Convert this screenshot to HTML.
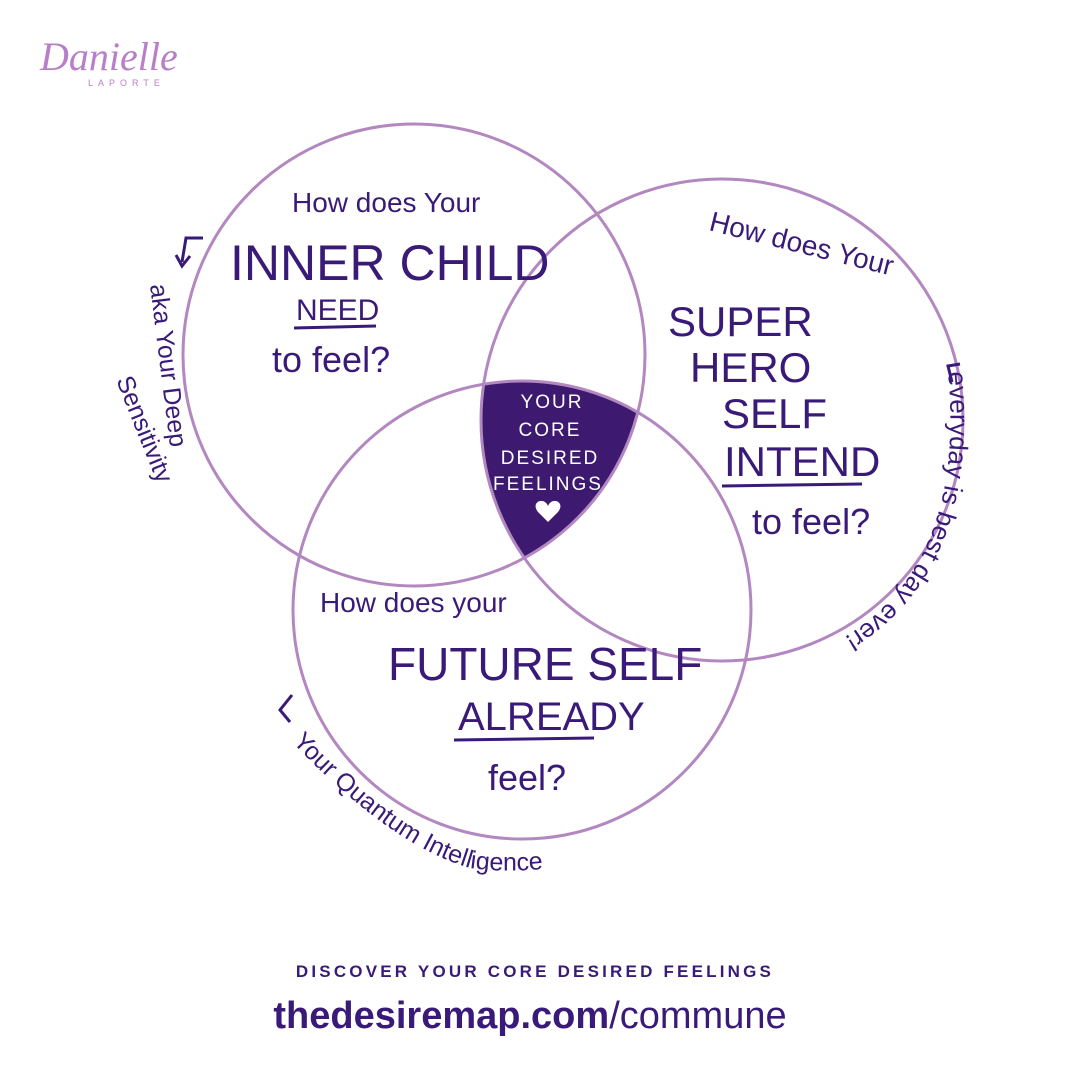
<!DOCTYPE html>
<html><head><meta charset="utf-8"><style>
html,body{margin:0;padding:0;background:#fff;}
body{width:1080px;height:1080px;overflow:hidden;position:relative;font-family:"Liberation Sans",sans-serif;}
</style></head><body>
<svg width="1080" height="1080" viewBox="0 0 1080 1080" xmlns="http://www.w3.org/2000/svg" style="position:absolute;left:0;top:0">
<defs>
<clipPath id="cL"><circle cx="414" cy="355" r="231"/></clipPath>
<clipPath id="cR"><circle cx="722" cy="420" r="241"/></clipPath>
<path id="pA" d="M150 285 L178 510"/>
<path id="pS" d="M116 380 L182 545"/>
<path id="pR" d="M948 372 Q972 625 752 672"/>
<path id="pB" d="M292 742 Q390 845 470 868 Q560 880 648 838"/>
</defs>
<g clip-path="url(#cL)"><g clip-path="url(#cR)"><circle cx="522" cy="610" r="229" fill="#3d1a70"/></g></g>
<g fill="none" stroke="#b387c0" stroke-width="3">
<circle cx="414" cy="355" r="231"/>
<circle cx="722" cy="420" r="241"/>
<circle cx="522" cy="610" r="229"/>
</g>
<text x="40" y="70" font-family="Liberation Serif" font-style="italic" font-size="40" fill="#b87fc8">Danielle</text>
<text x="88" y="86" font-size="9" letter-spacing="5" fill="#b87fc8">LAPORTE</text>
<g fill="#3a1a78" font-family="Liberation Sans">
<text x="292" y="212" font-size="28">How does Your</text>
<text x="230" y="280" font-size="50">INNER CHILD</text>
<text x="296" y="320" font-size="30">NEED</text>
<line x1="294" y1="328" x2="376" y2="326" stroke="#3a1a78" stroke-width="3"/>
<text x="272" y="372" font-size="36">to feel?</text>

<text x="708" y="230" font-size="28" transform="rotate(14 708 230)">How does Your</text>
<text x="668" y="336" font-size="42">SUPER</text>
<text x="690" y="382" font-size="42">HERO</text>
<text x="722" y="428" font-size="42">SELF</text>
<text x="724" y="476" font-size="42">INTEND</text>
<line x1="722" y1="486" x2="862" y2="484" stroke="#3a1a78" stroke-width="3"/>
<text x="752" y="534" font-size="36">to feel?</text>

<text x="320" y="612" font-size="28">How does your</text>
<text x="388" y="680" font-size="46">FUTURE SELF</text>
<text x="458" y="730" font-size="40">ALREADY</text>
<line x1="454" y1="740" x2="594" y2="738" stroke="#3a1a78" stroke-width="3"/>
<text x="488" y="790" font-size="36">feel?</text>

<text font-size="25"><textPath href="#pA">aka Your Deep</textPath></text>
<text font-size="25"><textPath href="#pS">Sensitivity</textPath></text>
<text font-size="26"><textPath href="#pR">everyday is best day ever!</textPath></text>
<text font-size="25"><textPath href="#pB">Your Quantum Intelligence</textPath></text>
</g>
<g fill="none" stroke="#3a1a78" stroke-width="3">
<path d="M203 238 L186 238 L182 262"/>
<path d="M176 255 L182 266 L190 256"/>
<path d="M960 364 L948 366 L952 382"/>
<path d="M292 695 L280 710 L290 722"/>
</g>
<g fill="#fff" font-size="19" text-anchor="middle" letter-spacing="2">
<text x="552" y="408">YOUR</text>
<text x="550" y="436">CORE</text>
<text x="550" y="464">DESIRED</text>
<text x="548" y="490">FEELINGS</text>
<path d="M538 512 c-8-10 6-16 10-6 c4-10 18-4 10 6 l-10 10 z" fill="#fff"/>
</g>
<text x="535" y="977" text-anchor="middle" font-size="17" font-weight="bold" letter-spacing="3.2" fill="#3a1a78">DISCOVER YOUR CORE DESIRED FEELINGS</text>
<text x="530" y="1028" text-anchor="middle" font-size="38" fill="#3a1a78"><tspan font-weight="bold">thedesiremap.com</tspan>/commune</text>
</svg>
</body></html>
